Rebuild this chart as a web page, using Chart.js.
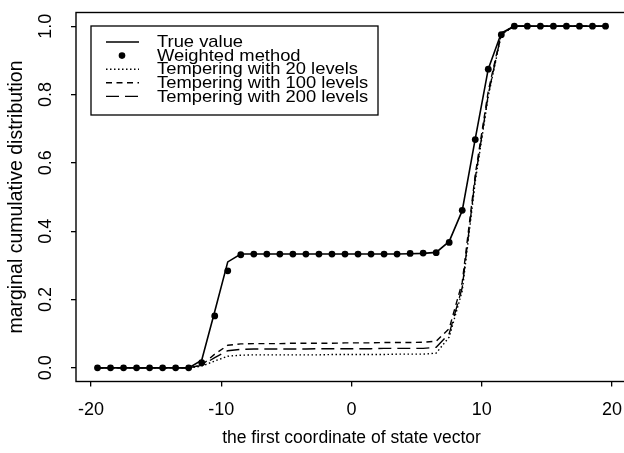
<!DOCTYPE html>
<html lang="en">
<head>
<meta charset="UTF-8">
<title>Marginal cumulative distribution</title>
<script src="https://cdn.jsdelivr.net/npm/chart.js"></script>
<style>
    html, body { margin: 0; padding: 0; background: #fff; overflow: hidden; }
    #wrap { width: 640px; height: 453px; }
</style>
</head>
<body>
<div id="wrap"><canvas id="chart" width="640" height="453"></canvas></div>
<script>
// grid of the first coordinate
const xs = [-19.5, -18.5, -17.5, -16.5, -15.5, -14.5, -13.5, -12.5, -11.5, -10.5,
            -9.5, -8.5, -7.5, -6.5, -5.5, -4.5, -3.5, -2.5, -1.5, -0.5,
            0.5, 1.5, 2.5, 3.5, 4.5, 5.5, 6.5, 7.5, 8.5, 9.5,
            10.5, 11.5, 12.5, 13.5, 14.5, 15.5, 16.5, 17.5, 18.5, 19.5];

const trueValue = [0, 0, 0, 0, 0, 0, 0, 0, 0.022, 0.165,
                   0.31, 0.333, 0.333, 0.333, 0.333, 0.333, 0.333, 0.333, 0.333, 0.333,
                   0.333, 0.333, 0.333, 0.333, 0.334, 0.335, 0.338, 0.37, 0.46, 0.67,
                   0.875, 0.98, 1, 1, 1, 1, 1, 1, 1, 1];

const weighted = [0, 0, 0, 0, 0, 0, 0, 0, 0.015, 0.152,
                  0.284, 0.331, 0.333, 0.333, 0.333, 0.333, 0.333, 0.333, 0.333, 0.333,
                  0.333, 0.333, 0.333, 0.333, 0.335, 0.336, 0.337, 0.367, 0.461, 0.668,
                  0.874, 0.975, 1, 1, 1, 1, 1, 1, 1, 1];

const temper20 = [0, 0, 0, 0, 0, 0, 0, 0, 0.005, 0.02,
                  0.034, 0.037, 0.038, 0.038, 0.038, 0.038, 0.038, 0.038, 0.039, 0.039,
                  0.039, 0.039, 0.039, 0.040, 0.040, 0.040, 0.043, 0.09, 0.225, 0.545,
                  0.795, 0.975, 1, 1, 1, 1, 1, 1, 1, 1];

const temper100 = [0, 0, 0, 0, 0, 0, 0, 0, 0.008, 0.04,
                   0.066, 0.070, 0.071, 0.071, 0.071, 0.072, 0.072, 0.072, 0.072, 0.073,
                   0.073, 0.073, 0.074, 0.074, 0.074, 0.075, 0.078, 0.115, 0.25, 0.565,
                   0.81, 0.98, 1, 1, 1, 1, 1, 1, 1, 1];

const temper200 = [0, 0, 0, 0, 0, 0, 0, 0, 0.007, 0.03,
                   0.05, 0.054, 0.055, 0.055, 0.055, 0.055, 0.055, 0.056, 0.056, 0.056,
                   0.056, 0.056, 0.057, 0.057, 0.057, 0.057, 0.06, 0.10, 0.235, 0.555,
                   0.80, 0.978, 1, 1, 1, 1, 1, 1, 1, 1];

const xTicks = [-20, -10, 0, 10, 20];
const yTicks = [0, 0.2, 0.4, 0.6, 0.8, 1.0];
const yTickLabels = ['0.0', '0.2', '0.4', '0.6', '0.8', '1.0'];
const seriesNames = ['True value', 'Weighted method', 'Tempering with 20 levels',
                     'Tempering with 100 levels', 'Tempering with 200 levels'];

const FONT = '"Liberation Sans", Arial, Helvetica, sans-serif';
Chart.defaults.font.family = FONT;
Chart.defaults.color = '#000';

function pts(arr) {
    return xs.map((x, i) => ({ x: x, y: arr[i] }));
}

const styles = [
    { dash: [], point: false },
    { dash: null, point: true },
    { dash: [1.5, 2.5], point: false },
    { dash: [6, 4.5], point: false },
    { dash: [13, 6], point: false }
];

// box around plot region + rotated y tick labels
const frame = {
    id: 'frame',
    afterDraw(chart) {
        const a = chart.chartArea, ctx = chart.ctx;
        ctx.save();
        ctx.strokeStyle = '#000';
        ctx.lineWidth = 1.4;
        ctx.strokeRect(a.left, a.top, a.right - a.left, a.bottom - a.top);

        const y = chart.scales.y;
        ctx.font = '18px ' + FONT;
        ctx.fillStyle = '#000';
        ctx.textAlign = 'center';
        ctx.textBaseline = 'middle';
        yTicks.forEach((v, i) => {
            ctx.save();
            ctx.translate(46, y.getPixelForValue(v));
            ctx.rotate(-Math.PI / 2);
            ctx.fillText(yTickLabels[i], 0, 0);
            ctx.restore();
        });
        ctx.restore();
    }
};

// legend drawn inside the plot (text a little wide, like the scan)
const legendBox = {
    id: 'legendBox',
    afterDraw(chart) {
        const ctx = chart.ctx;
        ctx.save();
        ctx.fillStyle = '#fff';
        ctx.fillRect(91, 26, 287, 89);
        ctx.strokeStyle = '#000';
        ctx.lineWidth = 1.3;
        ctx.strokeRect(91, 26, 287, 89);
        ctx.textAlign = 'left';
        ctx.textBaseline = 'middle';
        seriesNames.forEach((name, i) => {
            const yy = 42 + i * 13.6;
            const st = styles[i];
            ctx.fillStyle = '#000';
            if (st.point) {
                ctx.beginPath();
                ctx.arc(122, yy, 3.3, 0, Math.PI * 2);
                ctx.fill();
            } else {
                ctx.beginPath();
                ctx.setLineDash(st.dash);
                ctx.lineWidth = 1.4;
                ctx.moveTo(106, yy);
                ctx.lineTo(139, yy);
                ctx.stroke();
                ctx.setLineDash([]);
            }
            ctx.save();
            ctx.translate(157, yy + 0.5);
            ctx.scale(1.08, 1);
            ctx.font = '17px ' + FONT;
            ctx.fillText(name, 0, 0);
            ctx.restore();
        });
        ctx.restore();
    }
};

const datasets = [
    { label: seriesNames[4], data: pts(temper200), showLine: true, borderColor: '#000', borderWidth: 1.4, borderDash: styles[4].dash, pointRadius: 0 },
    { label: seriesNames[3], data: pts(temper100), showLine: true, borderColor: '#000', borderWidth: 1.4, borderDash: styles[3].dash, pointRadius: 0 },
    { label: seriesNames[2], data: pts(temper20), showLine: true, borderColor: '#000', borderWidth: 1.4, borderDash: styles[2].dash, pointRadius: 0 },
    { label: seriesNames[0], data: pts(trueValue), showLine: true, borderColor: '#000', borderWidth: 1.6, pointRadius: 0 },
    { label: seriesNames[1], data: pts(weighted), showLine: false, pointRadius: 3.4, pointBackgroundColor: '#000', pointBorderColor: '#000', pointBorderWidth: 0 }
];

new Chart(document.getElementById('chart'), {
    type: 'scatter',
    data: { datasets: datasets },
    options: {
        responsive: false,
        animation: false,
        layout: { padding: { top: 12.5, right: 13, left: 0, bottom: 0 } },
        plugins: { legend: { display: false }, tooltip: { enabled: false } },
        scales: {
            x: {
                type: 'linear',
                min: -21.15,
                max: 21.15,
                afterBuildTicks: s => { s.ticks = xTicks.map(v => ({ value: v })); },
                afterFit: s => { s.height = 71.5; },
                ticks: { font: { size: 18 }, padding: 13, maxRotation: 0, callback: v => String(v) },
                grid: { display: true, drawOnChartArea: false, drawTicks: true, tickLength: 5, color: '#000', lineWidth: 1.3 },
                border: { display: false },
                title: { display: true, text: 'the first coordinate of state vector', font: { size: 17.5 }, padding: { top: 0, bottom: 4 } }
            },
            y: {
                type: 'linear',
                min: -0.04,
                max: 1.04,
                afterBuildTicks: s => { s.ticks = yTicks.map(v => ({ value: v })); },
                afterFit: s => { s.width = 76; },
                ticks: { display: false },
                grid: { display: true, drawOnChartArea: false, drawTicks: true, tickLength: 5, color: '#000', lineWidth: 1.3 },
                border: { display: false },
                title: { display: true, text: 'marginal cumulative distribution', font: { size: 19.5 }, padding: { top: 5, bottom: 0 } }
            }
        }
    },
    plugins: [frame, legendBox]
});
</script>
</body>
</html>
